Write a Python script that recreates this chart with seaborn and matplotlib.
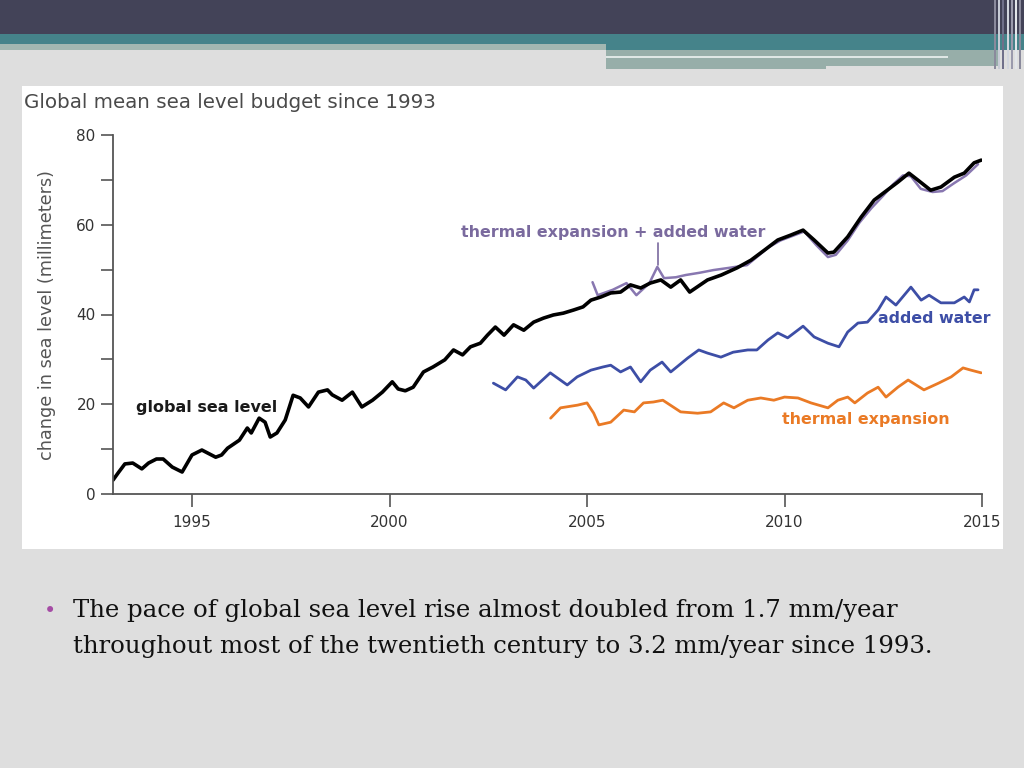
import numpy as np
import pandas as pd
import seaborn as sns
import matplotlib.pyplot as plt
from matplotlib.patches import Rectangle

# global sea level (black)
gsl_years = [1993.0, 1993.13, 1993.3, 1993.5, 1993.73, 1993.9, 1994.1, 1994.27, 1994.5, 1994.75,
             1995.0, 1995.25, 1995.6, 1995.75, 1995.9, 1996.2, 1996.4, 1996.5, 1996.7, 1996.85,
             1996.98, 1997.15, 1997.36, 1997.56, 1997.74, 1997.95, 1998.2, 1998.43, 1998.55, 1998.8,
             1999.06, 1999.3, 1999.57, 1999.82, 2000.07, 2000.22, 2000.4, 2000.6, 2000.86, 2001.1,
             2001.4, 2001.62, 2001.85, 2002.05, 2002.3, 2002.48, 2002.68, 2002.9, 2003.14, 2003.4,
             2003.65, 2003.9, 2004.15, 2004.4, 2004.66, 2004.9, 2005.1, 2005.35, 2005.6, 2005.85,
             2006.1, 2006.36, 2006.6, 2006.87, 2007.12, 2007.37, 2007.6, 2008.05, 2008.4, 2008.8,
             2009.15, 2009.5, 2009.83, 2010.16, 2010.47, 2010.75, 2011.1, 2011.25, 2011.6, 2011.94,
             2012.27, 2012.6, 2012.87, 2013.15, 2013.37, 2013.7, 2013.96, 2014.3, 2014.55, 2014.8,
             2014.98]
gsl_mm = [3.1, 4.7, 6.7, 6.9, 5.6, 6.9, 7.8, 7.8, 6.0, 4.9,
          8.7, 9.8, 8.2, 8.7, 10.2, 12.0, 14.7, 13.6, 16.9, 16.0,
          12.7, 13.6, 16.5, 22.0, 21.4, 19.4, 22.7, 23.2, 22.1, 20.9,
          22.7, 19.4, 20.9, 22.7, 25.0, 23.4, 23.0, 23.8, 27.2, 28.3,
          29.9, 32.1, 31.0, 32.8, 33.6, 35.4, 37.2, 35.4, 37.7, 36.5,
          38.3, 39.2, 39.9, 40.3, 41.0, 41.7, 43.2, 43.9, 44.8, 45.0,
          46.6, 45.9, 47.0, 47.7, 46.1, 47.7, 45.0, 47.7, 48.8, 50.4,
          52.1, 54.4, 56.6, 57.7, 58.8, 56.6, 53.7, 53.9, 57.3, 61.7,
          65.5, 67.7, 69.5, 71.5, 70.0, 67.7, 68.4, 70.6, 71.5, 73.8,
          74.4]

# thermal expansion + added water (purple)
sum_years = [2005.14, 2005.27, 2005.65, 2006.0, 2006.25, 2006.58, 2006.78, 2006.95, 2007.25, 2007.5,
             2007.85, 2008.2, 2008.6, 2009.05, 2009.3, 2009.6, 2009.9, 2010.2, 2010.5, 2010.8,
             2011.1, 2011.3, 2011.6, 2011.9, 2012.2, 2012.5, 2012.75, 2013.0, 2013.2, 2013.45,
             2013.75, 2014.0, 2014.3, 2014.6, 2014.9]
sum_mm = [47.2, 44.3, 45.5, 47.0, 44.3, 47.0, 50.6, 48.1, 48.3, 48.8,
          49.3, 49.9, 50.4, 51.0, 52.8, 55.0, 56.5, 57.5, 58.5, 55.5,
          52.8, 53.3, 56.5, 60.5, 63.7, 66.5, 69.0, 71.0, 70.8, 68.0,
          67.3, 67.5, 69.3, 71.0, 73.5]

# added water (blue)
water_years = [2002.63, 2002.94, 2003.24, 2003.45, 2003.65, 2004.07, 2004.5, 2004.75, 2005.1, 2005.4,
               2005.6, 2005.85, 2006.1, 2006.36, 2006.6, 2006.9, 2007.12, 2007.55, 2007.83, 2008.05,
               2008.39, 2008.7, 2009.07, 2009.3, 2009.58, 2009.83, 2010.08, 2010.47, 2010.75, 2011.1,
               2011.38, 2011.6, 2011.86, 2012.1, 2012.37, 2012.57, 2012.82, 2013.2, 2013.46, 2013.66,
               2013.96, 2014.3, 2014.55, 2014.68, 2014.8, 2014.9]
water_mm = [24.7, 23.2, 26.1, 25.4, 23.6, 27.0, 24.3, 26.1, 27.6, 28.3,
            28.7, 27.2, 28.3, 25.0, 27.6, 29.4, 27.2, 30.3, 32.1, 31.4,
            30.5, 31.6, 32.1, 32.1, 34.3, 35.9, 34.8, 37.4, 35.0, 33.6,
            32.8, 36.1, 38.1, 38.3, 41.0, 43.9, 42.1, 46.1, 43.2, 44.3,
            42.6, 42.6, 43.9, 42.8, 45.5, 45.5]

# thermal expansion (orange)
thermal_years = [2004.08, 2004.33, 2004.76, 2005.0, 2005.17, 2005.3, 2005.6, 2005.93, 2006.2, 2006.43,
                 2006.68, 2006.92, 2007.37, 2007.8, 2008.13, 2008.46, 2008.72, 2009.07, 2009.4, 2009.73,
                 2010.0, 2010.34, 2010.67, 2011.1, 2011.35, 2011.6, 2011.78, 2012.1, 2012.37, 2012.57,
                 2012.87, 2013.13, 2013.53, 2013.9, 2014.22, 2014.52, 2014.72, 2014.98]
thermal_mm = [16.9, 19.2, 19.8, 20.3, 18.0, 15.4, 16.0, 18.7, 18.3, 20.3,
              20.5, 20.9, 18.3, 18.0, 18.3, 20.3, 19.2, 20.9, 21.4, 20.9,
              21.6, 21.4, 20.3, 19.2, 20.9, 21.6, 20.3, 22.5, 23.8, 21.6,
              23.8, 25.4, 23.2, 24.7, 26.1, 28.1, 27.6, 27.0]

W, H = 1024, 768


def fx(px):
    return px / W


def fy(py):
    return 1 - py / H


sns.set_style("ticks")
fig = plt.figure(figsize=(10.24, 7.68), dpi=100, facecolor="#dedede")

# slide decoration drawn in pixel coordinates
bg = fig.add_axes([0, 0, 1, 1])
bg.set_xlim(0, W)
bg.set_ylim(H, 0)
bg.axis("off")
for x, y, w, h, c in [
    (0, 0, W, 34, "#434358"),
    (0, 34, W, 10, "#45838a"),
    (0, 44, 606, 6, "#a2b7b1"),
    (606, 44, W - 606, 6, "#45838a"),
    (606, 50, 392, 16, "#97aea9"),
    (606, 56, 342, 2, "#dfe7e5"),
    (606, 66, 220, 3, "#97aea9"),
    (22, 86, 981, 463, "white"),
]:
    bg.add_patch(Rectangle((x, y), w, h, color=c, lw=0))
for x, c in [(994, "#8a8a9c"), (998, "#c8ccd6"), (1002, "#70708a"), (1007, "#d2d6de"),
             (1011, "#9a9aac"), (1015, "#e2e6ea"), (1019, "#8a8a9c")]:
    bg.add_patch(Rectangle((x, 0), 2, 69, color=c, lw=0))

ax = fig.add_axes([fx(113), fy(494), fx(982) - fx(113), fy(135) - fy(494)])
ax.set_facecolor("none")

series = [
    (thermal_years, thermal_mm, "#ea7a25", 2.0),
    (water_years, water_mm, "#3d4ea6", 2.0),
    (sum_years, sum_mm, "#8877b0", 1.8),
    (gsl_years, gsl_mm, "black", 2.6),
]
for yrs, vals, col, lw in series:
    df = pd.DataFrame({"year": yrs, "mm": vals})
    sns.lineplot(data=df, x="year", y="mm", ax=ax, color=col, lw=lw,
                 estimator=None, sort=False)

ax.set_xlim(1993, 2015)
ax.set_ylim(0, 80)
ax.set_xticks([1995, 2000, 2005, 2010, 2015])
ax.set_yticks(range(0, 81, 10))
ax.set_yticklabels([str(v) if v % 20 == 0 else "" for v in range(0, 81, 10)])
ax.tick_params(axis="both", colors="#555555", labelcolor="#333333", labelsize=11,
               length=9, width=1.2, direction="out")
ax.tick_params(axis="x", pad=6)
ax.set_xlabel("")
ax.set_ylabel("")
sns.despine(ax=ax)
for s in ["left", "bottom"]:
    ax.spines[s].set_color("#555555")
    ax.spines[s].set_linewidth(1.3)

ax.text(1993.58, 19.2, "global sea level", fontsize=11.5, fontweight="bold",
        color="#1a1a1a", va="center")
ax.text(2001.8, 58.2, "thermal expansion + added water", fontsize=11.4,
        color="#7a6a9e", va="center", fontweight="semibold")
ax.plot([2006.79, 2006.79], [56.0, 51.0], color="#7a6a9e", lw=1.2)
ax.text(2012.37, 39.0, "added water", fontsize=11.4, color="#3d4ea6", va="center",
        fontweight="semibold")
ax.text(2009.93, 16.5, "thermal expansion", fontsize=11.4, color="#ea7a25", va="center",
        fontweight="semibold")

fig.text(fx(24), fy(103), "Global mean sea level budget since 1993", fontsize=14.3,
         color="#4a4a4a", va="center")
fig.text(fx(47), fy(315), "change in sea level (millimeters)", fontsize=12.7,
         color="#555555", rotation=90, va="center", ha="center")

fig.text(fx(50), fy(611), "\u2022", fontsize=15, color="#a54ca5", va="center", ha="center")
fig.text(fx(73), fy(611), "The pace of global sea level rise almost doubled from 1.7 mm/year",
         fontsize=17.6, family="DejaVu Serif", color="#111111", va="center")
fig.text(fx(73), fy(647), "throughout most of the twentieth century to 3.2 mm/year since 1993.",
         fontsize=17.6, family="DejaVu Serif", color="#111111", va="center")

fig.savefig("out.png", dpi=100, facecolor=fig.get_facecolor())
